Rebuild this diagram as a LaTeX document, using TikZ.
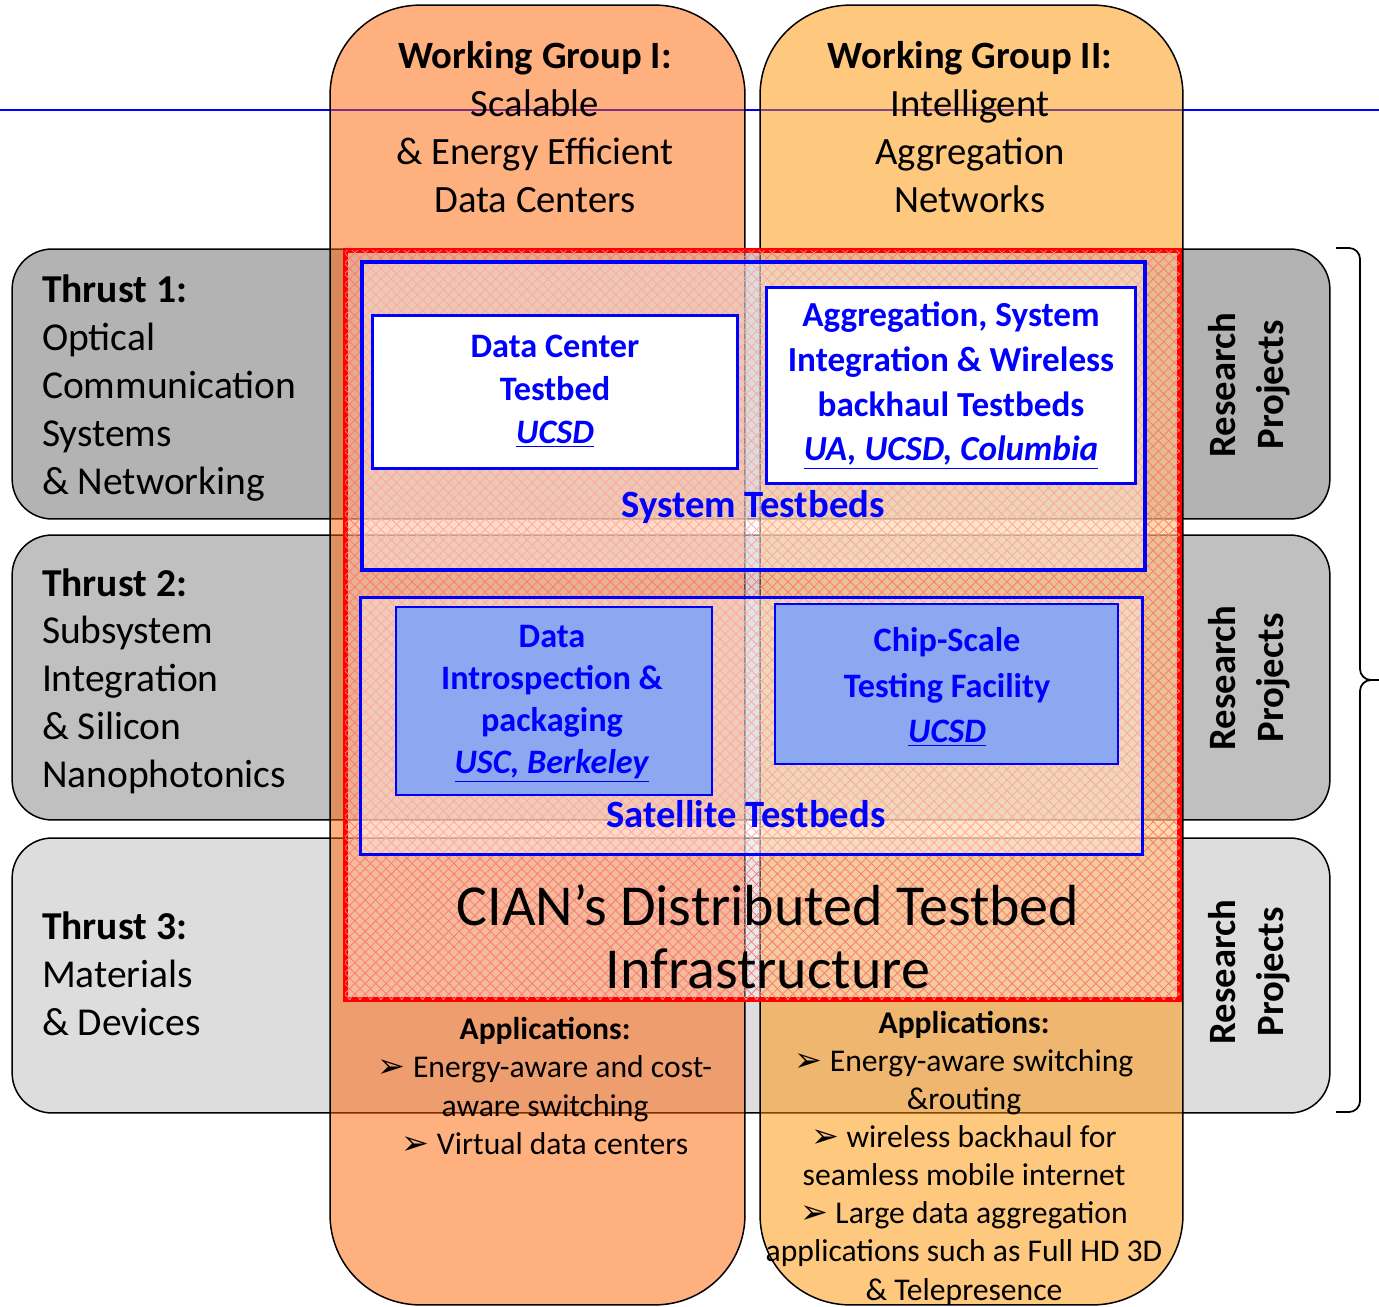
\documentclass[tikz,border=0pt]{standalone}
\usepackage{fontspec}
\setmainfont{Carlito}
\newfontfamily\arrowfont{DejaVu Sans}
\usetikzlibrary{patterns.meta}

\definecolor{wgone}{RGB}{255,97,0}
\definecolor{wgtwo}{RGB}{255,145,0}
\definecolor{thrustone}{RGB}{179,179,179}
\definecolor{thrusttwo}{RGB}{192,192,192}
\definecolor{thrustthree}{RGB}{221,221,221}
\definecolor{satfill}{RGB}{140,168,240}
\definecolor{hatchred}{RGB}{255,120,120}

\newcommand{\apparrow}{{\arrowfont\fontsize{19}{19}\selectfont ➢}~}

\begin{document}
\begin{tikzpicture}[x=0.02cm, y=-0.02cm,
    every node/.style={inner sep=0pt, outer sep=0pt},
    band/.style={draw=black, line width=0.85pt, rounded corners=0.8cm},
    column/.style={draw=black, line width=0.85pt, rounded corners=1.8cm, fill opacity=0.5},
    hatch/.style={pattern={Lines[angle=#1, distance=4.2pt, line width=0.45pt]}, pattern color=hatchred},
    redbox/.style={draw=red, line width=2.8pt, fill=white, fill opacity=0.3,
        postaction={hatch=45, fill opacity=0.18}, postaction={hatch=-45, fill opacity=0.18}},
    testbox/.style={draw=blue, line width=2.3pt, fill=white, fill opacity=0.35},
    whitebox/.style={draw=blue, line width=1.7pt, fill=white},
    bluebox/.style={draw=blue, line width=0.85pt, fill=satfill},
    bigtext/.style={font=\fontsize{22}{27.2}\selectfont, align=center},
    thrusttext/.style={font=\fontsize{22.5}{27.2}\selectfont, align=left, anchor=west},
    boxtext/.style={font=\bfseries\fontsize{19.5}{24.5}\selectfont, align=center, text=blue},
    apptext/.style={font=\fontsize{18}{21.7}\selectfont, align=center}]

    \useasboundingbox (0,0) rectangle (1379,1307);

    % Top rule
    \coordinate (ruleL) at (0,110);
    \coordinate (ruleR) at (1379,110);
    \draw[blue, line width=0.85pt] (ruleL) -- (ruleR);

    % Thrust bands
    \node[band, fill=thrustone, minimum width=26.36cm, minimum height=5.4cm] (T1) at (671,384) {};
    \node[band, fill=thrusttwo, minimum width=26.36cm, minimum height=5.7cm] (T2) at (671,677.5) {};
    \node[band, fill=thrustthree, minimum width=26.36cm, minimum height=5.5cm] (T3) at (671,975.5) {};

    % Working group columns
    \node[column, fill=wgone, minimum width=8.3cm, minimum height=26cm] (WG1) at (537.5,655) {};
    \node[column, fill=wgtwo, minimum width=8.46cm, minimum height=26cm] (WG2) at (971.5,655) {};

    % Testbed infrastructure
    \node[redbox, minimum width=16.7cm, minimum height=15cm] (cian) at (762.5,625) {};

    \node[testbox, minimum width=15.66cm, minimum height=6.16cm] (systb) at (753.5,416) {};
    \node[whitebox, minimum width=7.32cm, minimum height=3.06cm] (dctb) at (555,392) {};
    \node[whitebox, minimum width=7.4cm, minimum height=3.94cm] (aggtb) at (951,385.5) {};

    \node[testbox, line width=1.7pt, minimum width=15.66cm, minimum height=5.16cm] (sattb) at (751.5,726) {};
    \node[bluebox, minimum width=6.32cm, minimum height=3.76cm] (intro) at (554,701) {};
    \node[bluebox, minimum width=6.86cm, minimum height=3.2cm] (chip) at (946.5,684) {};

    % Brace
    \coordinate (braceT) at (1336,248);
    \coordinate (braceB) at (1336,1112);
    \coordinate (braceTip) at (1379,680);
    \draw[line width=1pt, rounded corners=0.22cm] (braceT) -- (1360,248) -- (1360,680) -- (braceTip);
    \draw[line width=1pt, rounded corners=0.22cm] (braceB) -- (1360,1112) -- (1360,680) -- (braceTip);

    % Labels
    \node[bigtext] (wg1lbl) at (535,127) {\textbf{Working Group I:}\\Scalable\\\& Energy Efficient\\Data Centers};
    \node[bigtext] (wg2lbl) at (970,127) {\textbf{Working Group II:}\\Intelligent\\Aggregation\\Networks};

    \node[thrusttext] (t1lbl) at (42,388) {\textbf{Thrust 1:}\\Optical\\Communication\\Systems\\\& Networking};
    \node[thrusttext] (t2lbl) at (42,681) {\textbf{Thrust 2:}\\Subsystem\\Integration\\\& Silicon\\Nanophotonics};
    \node[thrusttext] (t3lbl) at (42,974) {\textbf{Thrust 3:}\\Materials\\\& Devices};

    \node[bigtext, font=\bfseries\fontsize{22}{27.2}\selectfont, rotate=90] (rp1) at (1249,385) {Research\\Projects};
    \node[bigtext, font=\bfseries\fontsize{22}{27.2}\selectfont, rotate=90] (rp2) at (1249,678) {Research\\Projects};
    \node[bigtext, font=\bfseries\fontsize{22}{27.2}\selectfont, rotate=90] (rp3) at (1249,972) {Research\\Projects};

    \node[boxtext] (dclbl) at (555,391) {Data Center\\Testbed\\\underline{\textit{UCSD}}};
    \node[boxtext, font=\bfseries\fontsize{20}{25.5}\selectfont] (agglbl) at (951,385.5) {Aggregation, System\\Integration \& Wireless\\backhaul Testbeds\\\underline{\textit{UA, UCSD, Columbia}}};
    \node[boxtext, font=\bfseries\fontsize{22}{27.2}\selectfont] (syslbl) at (753,507) {System Testbeds};

    \node[boxtext, font=\bfseries\fontsize{19.5}{24}\selectfont] (introlbl) at (552,704) {Data\\Introspection \&\\packaging\\\underline{\textit{USC, Berkeley}}};
    \node[boxtext, font=\bfseries\fontsize{19.5}{26}\selectfont] (chiplbl) at (947,687) {Chip-Scale\\Testing Facility\\\underline{\textit{UCSD}}};
    \node[boxtext, font=\bfseries\fontsize{22}{27.2}\selectfont] (satlbl) at (746,814) {Satellite Testbeds};

    \node[font=\fontsize{33}{35.7}\selectfont, align=center] (cianlbl) at (768,937) {CIAN’s Distributed Testbed\\Infrastructure};

    % Applications
    \node[apptext] (app1) at (545,1086) {\textbf{Applications:}\\\apparrow Energy-aware and cost-\\aware switching\\\apparrow Virtual data centers};
    \node[apptext] (app2) at (964,1158) {\textbf{Applications:}\\\apparrow Energy-aware switching\\\&routing\\\apparrow wireless backhaul for\\seamless mobile internet\\\apparrow Large data aggregation\\applications such as Full HD 3D\\\& Telepresence};

\end{tikzpicture}
\end{document}
